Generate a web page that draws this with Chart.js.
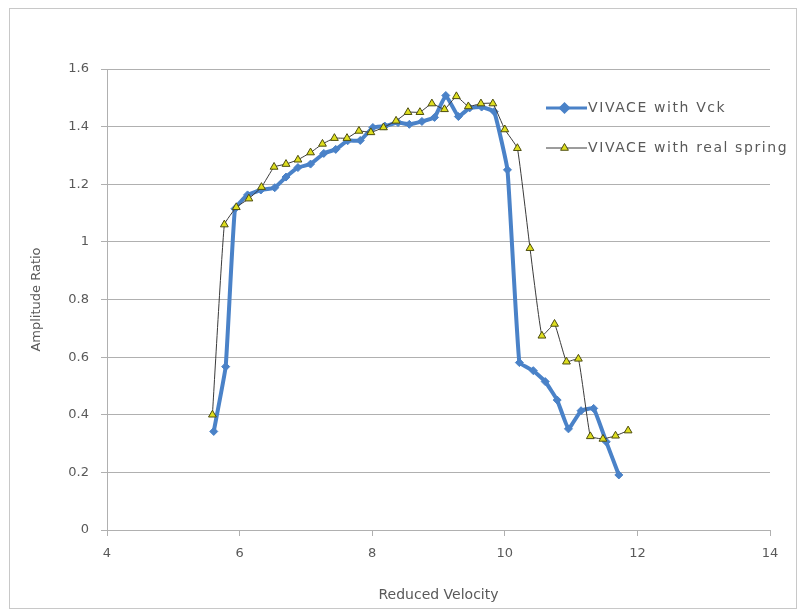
<!DOCTYPE html>
<html>
<head>
<meta charset="utf-8">
<script src="https://cdn.jsdelivr.net/npm/chart.js@4/dist/chart.umd.min.js"></script>
<style>
  html, body { margin: 0; padding: 0; background: #fff; }
  canvas { display: block; }
</style>
</head>
<body>
<canvas id="myChart_amp" width="802" height="611"></canvas>
<script>
// reduced velocity / amplitude ratio, VIVACE with Vck
const vckX = [5.61, 5.79, 5.93, 6.12, 6.32, 6.53, 6.70, 6.88, 7.07, 7.27, 7.45, 7.63, 7.82, 8.01, 8.19, 8.39, 8.56,
  8.75, 8.94, 9.11, 9.30, 9.47, 9.65, 9.84, 10.04, 10.22, 10.43, 10.61, 10.79, 10.96, 11.15, 11.34, 11.53, 11.72];
const vckY = [0.342, 0.567, 1.115, 1.163, 1.18, 1.188, 1.225, 1.258, 1.27, 1.307, 1.321, 1.351, 1.352, 1.397, 1.402, 1.414, 1.408,
  1.418, 1.432, 1.508, 1.435, 1.465, 1.468, 1.452, 1.25, 0.581, 0.553, 0.515, 0.451, 0.351, 0.414, 0.422, 0.306, 0.191];

// VIVACE with real spring
const springX = [5.59, 5.77, 5.95, 6.14, 6.33, 6.52, 6.70, 6.88, 7.07, 7.25, 7.43, 7.62, 7.80, 7.98, 8.17, 8.36, 8.54, 8.72,
  8.90, 9.09, 9.27, 9.45, 9.64, 9.82, 10.00, 10.19, 10.38, 10.56, 10.75, 10.93, 11.11, 11.29, 11.48, 11.67, 11.86];
const springY = [0.40, 1.06, 1.12, 1.15, 1.19, 1.26, 1.27, 1.285, 1.31, 1.34, 1.36, 1.36, 1.385, 1.38, 1.397, 1.42, 1.45, 1.45,
  1.48, 1.46, 1.505, 1.47, 1.48, 1.48, 1.39, 1.325, 0.978, 0.674, 0.715, 0.584, 0.594, 0.325, 0.316, 0.327, 0.345];

const xTicks = [4, 6, 8, 10, 12, 14];
const yTicks = [0, 0.2, 0.4, 0.6, 0.8, 1, 1.2, 1.4, 1.6];
const seriesNames = ["VIVACE with Vck", "VIVACE with real spring"];

const toPoints = (xs, ys) => xs.map((x, i) => ({ x: x, y: ys[i] }));

const textColor = "#595959";
const gridColor = "#b0b0b0";
const font = { family: "DejaVu Sans", size: 13 };

// white background + light frame around the whole chart
const frame = {
  id: "frame",
  beforeDraw(chart) {
    const ctx = chart.ctx;
    ctx.save();
    ctx.fillStyle = "#fff";
    ctx.fillRect(0, 0, chart.width, chart.height);
    ctx.strokeStyle = "#c8c8c8";
    ctx.lineWidth = 1;
    ctx.strokeRect(9.5, 8.5, 787, 600);
    ctx.restore();
  }
};

// legend on the right, drawn over the plot like excel does
const sideLegend = {
  id: "sideLegend",
  afterDraw(chart) {
    const ctx = chart.ctx;
    const x0 = 546, x1 = 587, top = 108, gap = 40;
    chart.data.datasets.forEach((ds, i) => {
      const y = top + i * gap;
      ctx.save();
      ctx.strokeStyle = ds.borderColor;
      ctx.lineWidth = Math.min(ds.borderWidth, 3);
      ctx.beginPath();
      ctx.moveTo(x0, y);
      ctx.lineTo(x1, y);
      ctx.stroke();
      ctx.fillStyle = ds.pointBackgroundColor;
      ctx.strokeStyle = ds.pointBorderColor;
      Chart.helpers.drawPoint(ctx, {
        pointStyle: ds.pointStyle,
        radius: ds.pointRadius,
        borderWidth: ds.pointBorderWidth,
        rotation: 0
      }, (x0 + x1) / 2 - 2, y);
      ctx.fillStyle = textColor;
      ctx.font = "14px 'DejaVu Sans'";
      ctx.letterSpacing = "1.6px";
      ctx.textBaseline = "middle";
      ctx.fillText(ds.label, x1 + 1, y);
      ctx.restore();
    });
  }
};

const ctx_amp = document.getElementById("myChart_amp").getContext("2d");
const myChart_amp = new Chart(ctx_amp, {
  type: "line",
  data: {
    datasets: [
      {
        label: seriesNames[0],
        data: toPoints(vckX, vckY),
        borderColor: "#4a82c8",
        borderWidth: 4,
        pointStyle: "rectRot",
        pointRadius: 4,
        pointBackgroundColor: "#4a82c8",
        pointBorderColor: "#4a82c8",
        pointBorderWidth: 1,
        tension: 0.1,
        fill: false,
        order: 2
      },
      {
        label: seriesNames[1],
        data: toPoints(springX, springY),
        borderColor: "#3a3a3a",
        borderWidth: 1,
        pointStyle: "triangle",
        pointRadius: 4.5,
        pointBackgroundColor: "#dede1e",
        pointBorderColor: "#4d4d10",
        pointBorderWidth: 1,
        tension: 0.1,
        fill: false,
        order: 1
      }
    ]
  },
  options: {
    responsive: false,
    animation: false,
    devicePixelRatio: 1,
    layout: { padding: { left: 10, top: 69, right: 32, bottom: 0 } },
    plugins: {
      legend: { display: false },
      tooltip: { enabled: false }
    },
    scales: {
      x: {
        type: "linear",
        min: 4,
        max: 14,
        afterFit: (scale) => { scale.height = 81; },
        afterBuildTicks: (scale) => { scale.ticks = xTicks.map(v => ({ value: v })); },
        grid: { drawOnChartArea: false, drawTicks: true, tickLength: 6, color: gridColor },
        border: { display: true, color: gridColor },
        ticks: { color: textColor, font: font, padding: 10, maxRotation: 0 },
        title: {
          display: true,
          text: "Reduced Velocity",
          color: textColor,
          font: { family: "DejaVu Sans", size: 14 },
          padding: { top: 0, bottom: 7 }
        }
      },
      y: {
        type: "linear",
        min: 0,
        max: 1.6,
        afterFit: (scale) => { scale.width = 97; },
        afterBuildTicks: (scale) => { scale.ticks = yTicks.map(v => ({ value: v })); },
        grid: { drawTicks: true, tickLength: 6, color: gridColor },
        border: { display: true, color: gridColor },
        ticks: {
          color: textColor,
          font: font,
          padding: 12,
          callback: (v) => String(Math.round(v * 10) / 10)
        },
        title: {
          display: true,
          text: "Amplitude Ratio",
          color: textColor,
          font: { family: "DejaVu Sans", size: 13 },
          padding: { top: 19, bottom: 0 }
        }
      }
    }
  },
  plugins: [frame, sideLegend]
});
</script>
</body>
</html>
